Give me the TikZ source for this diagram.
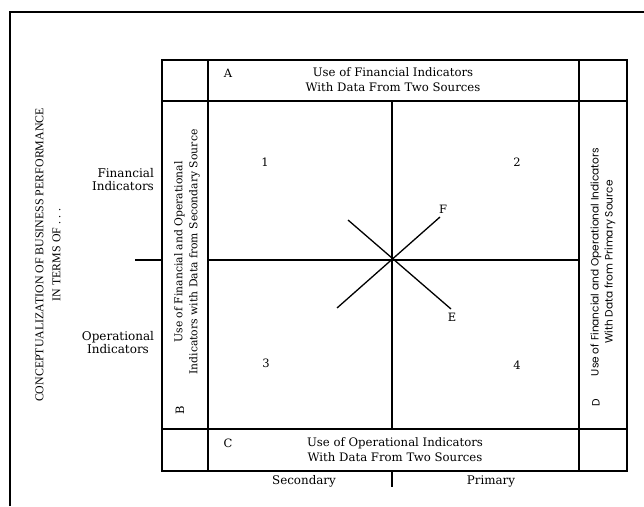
\documentclass[tikz,border=0pt]{standalone}
\usepackage{fontspec}
\setmainfont{DejaVu Serif}
\newfontfamily\gothicfont{Poppins}
\newfontfamily\capsfont{Liberation Serif}
\usetikzlibrary{positioning}

\begin{document}
\begin{tikzpicture}[
  x=1pt, y=-1pt,
  rule/.style={line width=1.3pt},
  frame/.style={line width=2.2pt},
  txt/.style={font=\fontsize{11.7}{15}\selectfont, align=center, inner sep=0pt},
  side/.style={txt, rotate=90, font=\fontsize{10.8}{15}\selectfont},
  sidesans/.style={side, font=\gothicfont\fontsize{10.6}{14}\selectfont},
  tag/.style={font=\fontsize{11.5}{12}\selectfont, inner sep=0pt}
]
  \useasboundingbox (0,0) rectangle (644,506);
  \draw[frame] (10,506) -- (10,12) -- (644,12);

  % grid of the matrix
  \coordinate (tl) at (162,60);
  \coordinate (br) at (627,471);
  \draw[rule] (tl) rectangle (br);
  \draw[rule] (208,60) -- (208,471);
  \draw[rule] (579,60) -- (579,471);
  \draw[rule] (162,101) -- (627,101);
  \draw[rule] (162,429) -- (627,429);
  \draw[rule] (392,101) -- (392,429);
  \draw[rule] (208,260) -- (579,260);
  \draw[rule] (135,260) -- (162,260);
  \draw[rule] (392,471) -- (392,487);

  % bands
  \node[tag] (lblA) at (228,73) {A};
  \node[txt] (bandA) at (393,80) {Use of Financial Indicators\\With Data From Two Sources};
  \node[tag] (lblC) at (228,443) {C};
  \node[txt] (bandC) at (395,450) {Use of Operational Indicators\\With Data From Two Sources};
  \node[side] (bandB) at (187,252) {Use of Financial and Operational\\Indicators with Data from Secondary Source};
  \node[tag, rotate=90] (lblB) at (180,410) {B};
  \node[sidesans] (bandD) at (603,262) {Use of Financial and Operational Indicators\\With Data from Primary Source};
  \node[tag, rotate=90, font=\gothicfont\fontsize{10.6}{12}\selectfont] (lblD) at (596,403) {D};

  % axis labels
  \node[side, font=\capsfont\fontsize{11.9}{17}\selectfont] (title) at (48,255)
    {CONCEPTUALIZATION OF BUSINESS PERFORMANCE\\IN TERMS OF . . .};
  \node[txt, align=right, font=\fontsize{12}{13}\selectfont] (fin) at (123,180) {Financial\\Indicators};
  \node[txt, font=\fontsize{12}{13}\selectfont] (oper) at (118,343) {Operational\\Indicators};
  \node[txt, font=\fontsize{11.9}{13}\selectfont] (sec) at (304,481) {Secondary};
  \node[txt, font=\fontsize{11.9}{13}\selectfont] (prim) at (491,481) {Primary};

  % quadrants
  \node[tag] (q1) at (265,162) {1};
  \node[tag] (q2) at (517,162) {2};
  \node[tag] (q3) at (266,363) {3};
  \node[tag] (q4) at (517,365) {4};

  % diagonals
  \node[tag] (F) at (443,209) {F};
  \node[tag] (E) at (452,317) {E};
  \coordinate (fs) at (337,308);
  \coordinate (fe) at (440,217);
  \coordinate (es) at (348,220);
  \coordinate (ee) at (451,309);
  \draw[rule] (fs) -- (fe);
  \draw[rule] (es) -- (ee);
\end{tikzpicture}
\end{document}
